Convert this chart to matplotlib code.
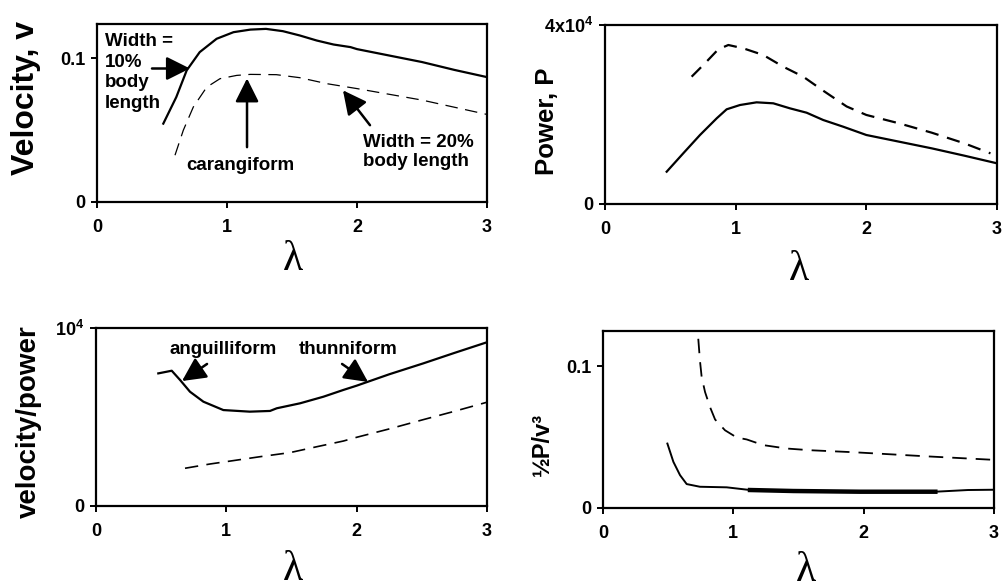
import matplotlib
matplotlib.use('Agg')
import matplotlib.pyplot as plt

plt.rcParams['font.family'] = ['Liberation Sans', 'DejaVu Sans']
plt.rcParams['font.weight'] = 'bold'
plt.rcParams['mathtext.fontset'] = 'custom'
plt.rcParams['mathtext.rm'] = 'Liberation Sans:bold'
plt.rcParams['mathtext.it'] = 'Liberation Sans:bold'
plt.rcParams['mathtext.bf'] = 'Liberation Sans:bold'

# velocity v (top left)
lam_v10 = [0.51, 0.61, 0.69, 0.79, 0.92, 1.05, 1.18, 1.3, 1.43, 1.56, 1.69, 1.82, 1.95, 2.0, 2.25, 2.5, 2.75, 3.0]
v10 = [0.0546, 0.0731, 0.0917, 0.1044, 0.1137, 0.1183, 0.1201, 0.1206, 0.119, 0.116, 0.1125, 0.1097, 0.1079,
       0.1065, 0.102, 0.0975, 0.092, 0.087]
lam_v20 = [0.6, 0.664, 0.741, 0.844, 0.946, 1.075, 1.18, 1.38, 1.56, 1.77, 2.0, 2.25, 2.5, 2.75, 3.0]
v20 = [0.0326, 0.05, 0.0662, 0.08, 0.0859, 0.0882, 0.0889, 0.0887, 0.0866, 0.0824, 0.079, 0.075, 0.071,
       0.066, 0.061]

# power P (top right)
lam_p10 = [0.472, 0.599, 0.727, 0.855, 0.931, 1.033, 1.16, 1.288, 1.415, 1.543, 1.67, 1.823, 2.0, 2.25, 2.5,
           2.75, 3.0]
p10 = [7220, 11330, 15420, 19150, 21160, 22120, 22720, 22500, 21380, 20400, 18770, 17270, 15420, 13930, 12440,
       10800, 9090]
lam_p20 = [0.663, 0.765, 0.867, 0.944, 1.058, 1.211, 1.364, 1.517, 1.67, 1.849, 2.0, 2.25, 2.5, 2.75, 2.95]
p20 = [28450, 31440, 34570, 35530, 34790, 33300, 30680, 28450, 25320, 21800, 19900, 18030, 15940, 13560, 11320]

# velocity/power (bottom left)
lam_e10 = [0.478, 0.581, 0.645, 0.721, 0.824, 0.977, 1.18, 1.335, 1.387, 1.566, 1.745, 1.898, 2.0, 2.25, 2.51,
           2.75, 3.0]
e10 = [7450, 7600, 7080, 6420, 5860, 5390, 5300, 5340, 5490, 5770, 6140, 6520, 6760, 7400, 8010, 8600, 9200]
lam_e20 = [0.683, 0.875, 1.054, 1.259, 1.489, 1.694, 1.898, 2.0, 2.25, 2.5, 2.75, 3.0]
e20 = [2120, 2360, 2550, 2770, 3000, 3330, 3650, 3860, 4330, 4830, 5320, 5830]

# 1/2 P / v^3 (bottom right)
lam_c10 = [0.494, 0.54, 0.591, 0.642, 0.744, 0.949, 1.128, 1.46, 1.97, 2.55, 2.8, 3.0]
c10 = [0.0455, 0.0326, 0.0232, 0.0169, 0.015, 0.0146, 0.0127, 0.012, 0.0115, 0.0115, 0.0127, 0.0129]
lam_c20 = [0.731, 0.744, 0.757, 0.783, 0.821, 0.86, 0.936, 1.026, 1.103, 1.23, 1.41, 1.589, 1.92, 2.5, 3.0]
c20 = [0.1195, 0.104, 0.0925, 0.0819, 0.0713, 0.0625, 0.0549, 0.0498, 0.0484, 0.0444, 0.042, 0.0408, 0.0394,
       0.0364, 0.034]

W, H = 1002, 588
fig = plt.figure(figsize=(W / 100, H / 100), dpi=100)


def px_axes(l, t, r, b):
    return fig.add_axes([l / W, 1 - b / H, (r - l) / W, (b - t) / H])


def style(ax, ylim, yticks, ylabels):
    ax.set_xlim(0, 3)
    ax.set_ylim(*ylim)
    ax.set_xticks([0, 1, 2, 3])
    ax.set_xticklabels(['0', '1', '2', '3'])
    ax.set_yticks(yticks)
    ax.set_yticklabels(ylabels)
    for s in ax.spines.values():
        s.set_linewidth(1.6)
    ax.tick_params(direction='out', length=4.5, width=1.4, labelsize=13)
    ax.tick_params(axis='x', pad=8)
    ax.tick_params(axis='y', pad=4)


ax1 = px_axes(97, 24, 487, 202)
ax2 = px_axes(605, 25, 997, 204)
ax3 = px_axes(96, 328, 487, 506)
ax4 = px_axes(603, 331, 994, 508)

ax1.plot(lam_v10, v10, color='k', lw=1.6)
ax1.plot(lam_v20, v20, color='k', lw=0.9, linestyle=(0, (10, 6)))
style(ax1, (0, 0.124), [0, 0.1], ['0', '0.1'])

ax2.plot(lam_p10, p10, color='k', lw=1.6)
ax2.plot(lam_p20, p20, color='k', lw=1.6, linestyle=(0, (6, 4)))
style(ax2, (0, 40000), [0, 40000], ['0', '4x10$^{4}$'])

ax3.plot(lam_e10, e10, color='k', lw=1.6)
ax3.plot(lam_e20, e20, color='k', lw=1.2, linestyle=(0, (8, 5)))
style(ax3, (0, 10000), [0, 10000], ['0', '10$^{4}$'])

ax4.plot(lam_c10, c10, color='k', lw=1.4)
thick = [(l, c) for l, c in zip(lam_c10, c10) if 1.12 <= l <= 2.56]
ax4.plot([t[0] for t in thick], [t[1] for t in thick], color='k', lw=3.2)
ax4.plot(lam_c20, c20, color='k', lw=1.3, linestyle=(0, (8, 5)))
style(ax4, (0, 0.125), [0, 0.1], ['0', '0.1'])

arrow = dict(arrowstyle='-|>,head_length=0.8,head_width=0.4', lw=1.8, color='k',
             mutation_scale=18, shrinkA=0, shrinkB=0)

ax1.text(0.06, 0.1175, 'Width =\n10%\nbody\nlength', ha='left', va='top', fontsize=13.5,
         linespacing=1.27)
ax1.annotate('', xy=(0.715, 0.093), xytext=(0.423, 0.093), arrowprops=arrow)
ax1.text(1.1, 0.0257, 'carangiform', ha='center', va='center', fontsize=13.5)
ax1.annotate('', xy=(1.154, 0.0861), xytext=(1.154, 0.0382), arrowprops=arrow)
ax1.text(2.046, 0.0347, 'Width = 20%\nbody length', ha='left', va='center', fontsize=13.5,
         linespacing=1.2)
ax1.annotate('', xy=(1.892, 0.0778), xytext=(2.1, 0.0535), arrowprops=arrow)

ax3.text(0.975, 8820, 'anguilliform', ha='center', va='center', fontsize=13.5)
ax3.annotate('', xy=(0.66, 7020), xytext=(0.852, 7980), arrowprops=arrow)
ax3.text(1.934, 8820, 'thunniform', ha='center', va='center', fontsize=13.5)
ax3.annotate('', xy=(2.087, 6970), xytext=(1.888, 7980), arrowprops=arrow)

# y labels
fig.text(26 / W, 1 - 98 / H, 'Velocity, v', rotation=90, ha='center', va='center', fontsize=23)
fig.text(547 / W, 1 - 121 / H, 'Power, P', rotation=90, ha='center', va='center', fontsize=18.5)
fig.text(29 / W, 1 - 422 / H, 'velocity/power', rotation=90, ha='center', va='center', fontsize=20)
fig.text(542 / W, 1 - 444 / H, '½P/v³', rotation=90, ha='center', va='center', fontsize=17)

# lambda labels (baseline at glyph foot)
for x, y in [(293, 270), (799, 280), (293, 580), (806, 581)]:
    fig.text(x / W, 1 - y / H, 'λ', ha='center', va='baseline', fontsize=30,
             family='Liberation Serif', weight='normal')

fig.savefig('out.png', dpi=100)
